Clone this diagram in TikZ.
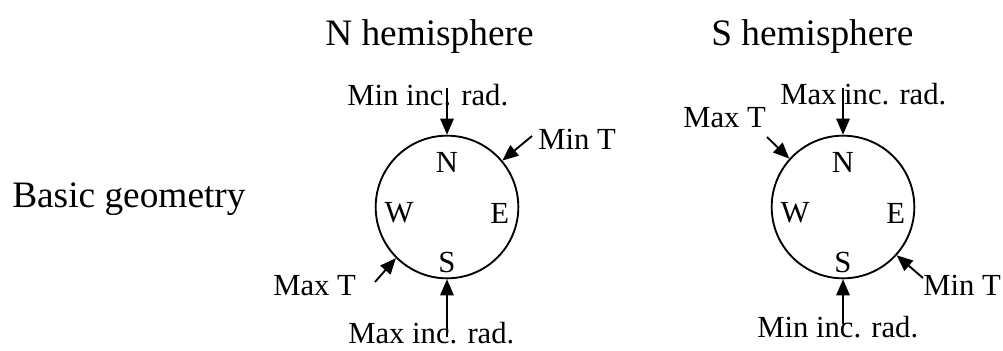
\documentclass[tikz,border=0pt]{standalone}
\usepackage{fontspec}
\setmainfont{Liberation Serif}
\usetikzlibrary{arrows.meta, positioning}

\begin{document}
\begin{tikzpicture}[x=0.75pt, y=-0.75pt,
  lbl/.style={inner sep=0pt, font=\fontsize{23}{28}\selectfont},
  ttl/.style={inner sep=0pt, font=\fontsize{28}{33}\selectfont},
  ring/.style={draw, circle, line width=1.4pt, minimum size=107pt, inner sep=0pt},
  ray/.style={line width=1.4pt, -{Triangle[length=12pt, width=10pt]}}]
\useasboundingbox (0,0) rectangle (1003,350);
% titles
\node[ttl, anchor=base west] (nhemi) at (325,45) {N hemisphere};
\node[ttl, anchor=base west] (shemi) at (711,45) {S hemisphere};
\node[ttl, anchor=base west] (geom) at (12,207) {Basic geometry};
% the two compass circles
\node[ring] (ncirc) at (447,207) {};
\node[ring] (scirc) at (843,207) {};
\foreach \c in {ncirc,scirc}{
  \node[lbl] (\c-N) at ([yshift=33.75pt]\c.center) {N};
  \node[lbl] (\c-W) at ([xshift=-36pt,yshift=-4.5pt]\c.center) {W};
  \node[lbl] (\c-E) at ([xshift=39.5pt,yshift=-4.5pt]\c.center) {E};
  \node[lbl] (\c-S) at ([yshift=-41.25pt]\c.center) {S};
}
% labels
\node[lbl, anchor=base west] (nminrad) at (347,105) {Min inc. rad.};
\node[lbl, anchor=base west] (nmaxrad) at (348,343) {Max inc. rad.};
\node[lbl, anchor=base west] (nmaxT) at (273,295) {Max T};
\node[lbl, anchor=base west] (nminT) at (538,149) {Min T};
\node[lbl, anchor=base west] (smaxrad) at (780,104) {Max inc. rad.};
\node[lbl, anchor=base west] (smaxT) at (683,127) {Max T};
\node[lbl, anchor=base west] (sminT) at (923,295) {Min T};
\node[lbl, anchor=base west] (sminrad) at (757,337) {Min inc. rad.};
% free ends of the arrows
\coordinate (nminrad-s) at (447,88);
\coordinate (nmaxrad-s) at (447,337);
\coordinate (nmaxT-s) at (375,282);
\coordinate (nminT-s) at (532,136);
\coordinate (smaxrad-s) at (843,88);
\coordinate (sminrad-s) at (843,324);
\coordinate (smaxT-s) at (767,137);
\coordinate (sminT-s) at (923,278);
\foreach \s/\t in {nminrad-s/ncirc.north, nmaxrad-s/ncirc.south,
  nmaxT-s/ncirc.225, nminT-s/ncirc.40, smaxrad-s/scirc.north,
  sminrad-s/scirc.south, smaxT-s/scirc.138, sminT-s/scirc.-42}
  \draw[ray] (\s) -- (\t);
\end{tikzpicture}
\end{document}
